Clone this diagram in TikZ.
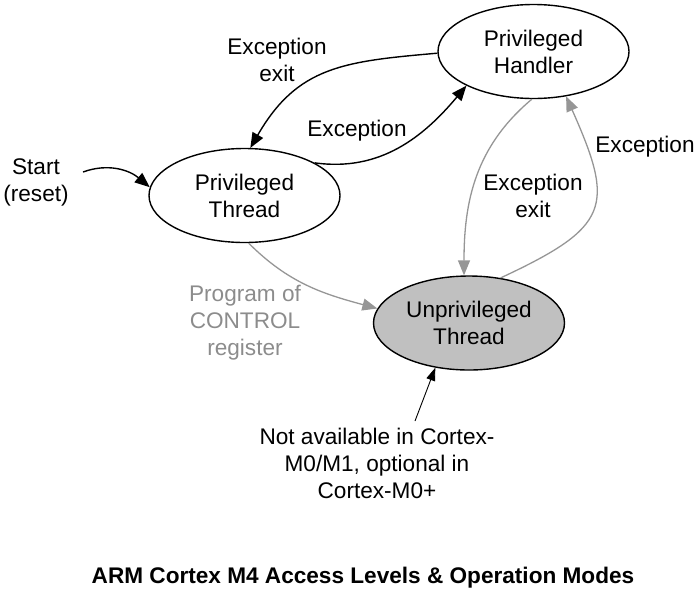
\documentclass[tikz,border=0pt]{standalone}
\usepackage{fontspec}
\setmainfont{Liberation Sans}
\usetikzlibrary{shapes.geometric,arrows.meta}
\definecolor{linegray}{RGB}{150,150,150}
\definecolor{textgray}{RGB}{140,140,140}
\definecolor{fillgray}{RGB}{192,192,192}
\tikzset{
  modebox/.style={ellipse, draw, line width=1.4pt, minimum width=191pt, minimum height=94pt, inner sep=0pt, align=center},
  blackarrow/.style={line width=1.4pt, -{Triangle[length=15pt,width=12pt]}},
  grayarrow/.style={draw=linegray, line width=1.3pt, -{Triangle[length=15pt,width=12pt,fill=linegray]}},
  notearrow/.style={line width=0.9pt, -{Triangle[length=13pt,width=9pt]}},
  txt/.style={align=center, inner sep=0pt}
}
\begin{document}
\begin{tikzpicture}[x=1pt, y=1pt, font=\fontsize{22.6}{27}\selectfont]
\useasboundingbox (0,0) rectangle (698,-595);

% Modes
\node[modebox] (thread) at (244.5,-195.5) {Privileged\\Thread};
\node[modebox] (handler) at (533.5,-51.5) {Privileged\\Handler};
\node[modebox, fill=fillgray] (unpriv) at (469,-323) {Unprivileged\\Thread};

% Labels
\node[txt] (start) at (36,-182) {Start\\(reset)};
\node[txt] (excexit) at (277,-60) {Exception\\exit};
\node[txt] (exc) at (357,-131) {Exception};
\node[txt] (excexitb) at (533,-195.5) {Exception\\exit};
\node[txt] (excb) at (645,-147) {Exception};
\node[txt, text=textgray] (prog) at (245,-323) {Program of\\CONTROL\\register};
\node[txt] (note) at (377,-463.5) {Not available in Cortex-\\M0/M1, optional in\\Cortex-M0+};
\node[txt, font=\fontsize{22.6}{27}\selectfont\bfseries] (title) at (363,-578) {ARM Cortex M4 Access Levels \& Operation Modes};

% Free ends
\coordinate (s0) at (83,-172);
\coordinate (n0) at (415,-421);

% Transitions
\draw[blackarrow] (s0) to[out=20, in=140] (thread.175);
\draw[blackarrow] (handler.181) to[out=185, in=60, looseness=1.15] (thread.83);
\draw[blackarrow] (thread.25) to[out=-8, in=230] (handler.207);
\draw[grayarrow] (handler.268) to[out=220, in=90] (unpriv.96);
\draw[grayarrow] (unpriv.55) to[out=25, in=294, looseness=1.6] (handler.306);
\draw[grayarrow] (thread.275) to[out=-45, in=165] (unpriv.171);
\draw[notearrow] (n0) -- (unpriv.233);
\end{tikzpicture}
\end{document}
